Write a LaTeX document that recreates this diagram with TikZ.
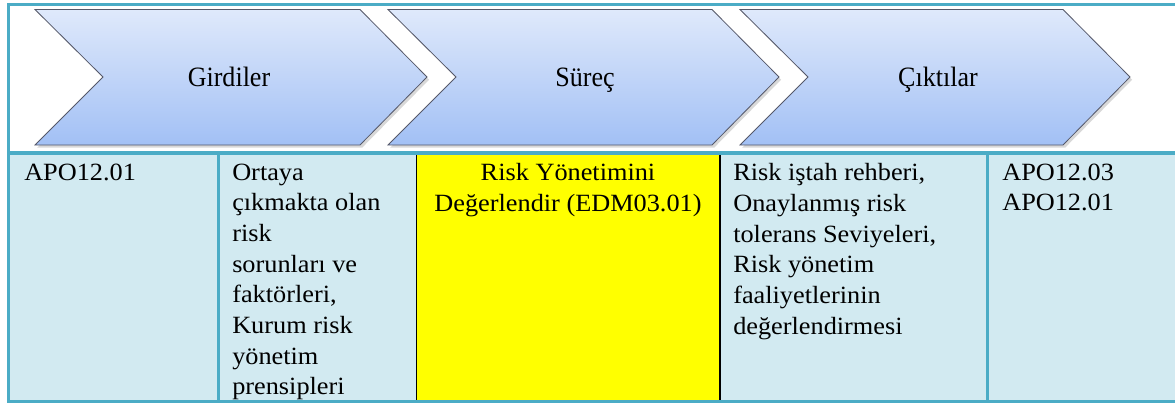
\documentclass[tikz,border=0pt]{standalone}
\usepackage{fontspec}
\setmainfont[FakeStretch=1.06]{Liberation Serif}
\newfontfamily\chevfont[FakeStretch=0.93]{Liberation Serif}
\usetikzlibrary{shadows}
\definecolor{tealline}{RGB}{75,172,198}
\definecolor{cellblue}{RGB}{210,234,241}
\definecolor{chevtop}{RGB}{223,233,251}
\definecolor{chevbot}{RGB}{162,192,245}
\definecolor{chevline}{RGB}{85,88,105}
\definecolor{yellowcell}{RGB}{255,255,0}
\tikzset{
  chev/.style={top color=chevtop, bottom color=chevbot, draw=chevline, line width=0.6pt,
    drop shadow={shadow xshift=1.6pt, shadow yshift=-2pt, opacity=0.3}},
  frameline/.style={draw=tealline, line width=2.25pt},
  celltext/.style={anchor=north west, inner sep=0pt, align=left, font=\fontsize{18.6}{23}\selectfont},
  chevtext/.style={anchor=base, inner sep=0pt, font=\chevfont\fontsize{21}{24}\selectfont},
}
\begin{document}
\begin{tikzpicture}[x=0.75pt,y=-0.75pt]
\useasboundingbox (0,0) rectangle (1175,403);
\fill[white] (0,0) rectangle (1175,403);
% table background
\fill[cellblue] (9,152) rectangle (1175,402);
% yellow cell
\filldraw[fill=yellowcell, draw=black, line width=0.9pt] (416.5,154) rectangle (720,401.5);
% teal lines
\draw[frameline] (7,4.2) -- (1175,4.2);
\draw[frameline] (8.5,3) -- (8.5,403);
\draw[frameline] (7,401.8) -- (1175,401.8);
\draw[frameline, line width=3pt] (7,152.5) -- (1175,152.5);
\draw[frameline] (218.3,152) -- (218.3,402);
\draw[frameline] (987.7,152) -- (987.7,402);
% chevrons
\draw[chev] (35,9.5) -- (360,9.5) -- (427,77) -- (360,145) -- (35,145) -- (103,77) -- cycle;
\draw[chev] (388,9.5) -- (712,9.5) -- (779,77) -- (712,145) -- (388,145) -- (456,77) -- cycle;
\draw[chev] (740,9.5) -- (1063,9.5) -- (1130,77) -- (1063,145) -- (740,145) -- (808,77) -- cycle;
% chevron labels
\node[chevtext] (girdi) at (229,86.5) {Girdiler};
\node[chevtext] (surec) at (585,86.5) {Süreç};
\node[chevtext] (cikti) at (938,86.5) {Çıktılar};
% cell texts
\node[celltext] (c1) at (24,163.5) {APO12.01};
\node[celltext] (c2) at (232,163.5) {Ortaya\\çıkmakta olan\\risk\\sorunları ve\\faktörleri,\\Kurum risk\\yönetim\\prensipleri};
\node[celltext, anchor=north, align=center] (c3) at (568,163.5) {Risk Yönetimini\\Değerlendir (EDM03.01)};
\node[celltext] (c4) at (733,163.5) {Risk iştah rehberi,\\Onaylanmış risk\\tolerans Seviyeleri,\\Risk yönetim\\faaliyetlerinin\\değerlendirmesi};
\node[celltext] (c5) at (1002,163.5) {APO12.03\\APO12.01};
\end{tikzpicture}
\end{document}
